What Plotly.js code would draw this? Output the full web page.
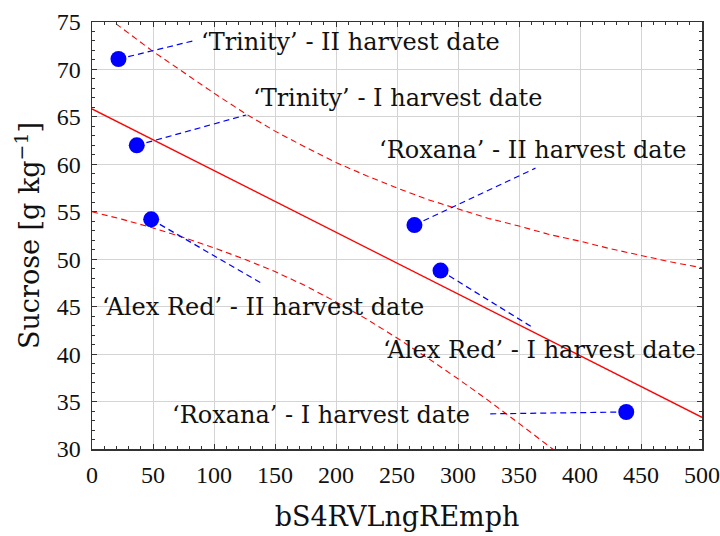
<!DOCTYPE html>
<html>
<head>
<meta charset="utf-8">
<script src="https://cdn.plot.ly/plotly-3.0.1.min.js"></script>
<style>
  html, body { margin: 0; padding: 0; background: #ffffff; }
  #chart { width: 720px; height: 536px; }
</style>
</head>
<body>
<div id="chart"></div>
<script>
// ---- Data ----
const labels = [
  "\u2018Trinity\u2019 - II harvest date",
  "\u2018Trinity\u2019 - I harvest date",
  "\u2018Alex Red\u2019 - II harvest date",
  "\u2018Roxana\u2019 - II harvest date",
  "\u2018Alex Red\u2019 - I harvest date",
  "\u2018Roxana\u2019 - I harvest date"
];
const pointX = [21.7, 36.7, 48.5, 264.3, 285.7, 437.9];
const pointY = [71.1, 62.0, 54.2, 53.6, 48.8, 33.9];

// ends of the blue dashed leader lines (from each point toward its label)
const leaderEndX = [82.6, 126.4, 140.0, 363.5, 361.3, 323.1];
const leaderEndY = [73.0, 65.2, 47.4, 59.6, 42.8, 33.7];

// label anchor positions (left edge, vertical middle)
const labelX = [88.0, 130.6, 6.4, 233.6, 237.2, 63.6];
const labelY = [72.9, 67.0, 45.0, 61.5, 40.4, 33.6];

// fitted regression line (solid red)
const fitX = [0, 500];
const fitY = [65.84, 33.34];

// confidence band (dashed red)
const bandX = [0, 25, 50, 75, 100, 125, 150, 175, 200, 225, 250, 275, 300, 325, 350, 375, 400, 425, 450, 475, 500];
const bandUpper = [76.7, 74.3, 71.9, 69.7, 67.5, 65.4, 63.5, 61.8, 60.2, 58.8, 57.5, 56.3, 55.3, 54.3, 53.5, 52.6, 51.9, 51.1, 50.4, 49.7, 49.1];
const bandLowerX = [0, 25, 50, 75, 100, 125, 150, 175, 200, 225, 250, 275, 300, 325, 350, 375, 400];
const bandLower = [55.0, 54.2, 53.3, 52.3, 51.2, 50.0, 48.7, 47.2, 45.5, 43.7, 41.7, 39.6, 37.4, 35.1, 32.7, 30.3, 27.8];

const xTicks = [0, 50, 100, 150, 200, 250, 300, 350, 400, 450, 500];
const yTicks = [30, 35, 40, 45, 50, 55, 60, 65, 70, 75];

// ---- Build traces ----
const leadX = [], leadY = [];
for (let i = 0; i < pointX.length; i++) {
  leadX.push(pointX[i], leaderEndX[i], null);
  leadY.push(pointY[i], leaderEndY[i], null);
}

const traces = [
  { x: bandX, y: bandUpper, mode: 'lines', type: 'scatter', hoverinfo: 'skip',
    line: { color: '#ff0000', width: 1.1, dash: '6px,4px' } },
  { x: bandLowerX, y: bandLower, mode: 'lines', type: 'scatter', hoverinfo: 'skip',
    line: { color: '#ff0000', width: 1.1, dash: '6px,4px' } },
  { x: fitX, y: fitY, mode: 'lines', type: 'scatter', hoverinfo: 'skip',
    line: { color: '#ff0000', width: 1.3 } },
  { x: leadX, y: leadY, mode: 'lines', type: 'scatter', hoverinfo: 'skip', connectgaps: false,
    line: { color: '#0000ff', width: 1.2, dash: '6px,4px' } },
  { x: pointX, y: pointY, mode: 'markers', type: 'scatter', text: labels,
    marker: { color: '#0000ff', size: 16, line: { width: 0 } } }
];

const annotations = labels.map((t, i) => ({
  x: labelX[i], y: labelY[i], xref: 'x', yref: 'y',
  text: t, showarrow: false, xanchor: 'left', yanchor: 'middle',
  font: { family: 'DejaVu Serif', size: 24, color: '#111111' }
}));

const axisCommon = {
  showgrid: true, gridcolor: '#d4d4d4', gridwidth: 1,
  zeroline: false, showline: true, linecolor: '#333333', linewidth: 1.5,
  mirror: 'allticks', ticks: 'inside', ticklen: 5, tickcolor: '#333333',
  tickfont: { family: 'Liberation Serif', size: 24, color: '#111111' }
};

const layout = {
  width: 720, height: 536,
  margin: { l: 92, r: 18, t: 22, b: 87 },
  paper_bgcolor: '#ffffff', plot_bgcolor: '#ffffff',
  showlegend: false,
  xaxis: Object.assign({}, axisCommon, {
    range: [0, 500], tickvals: xTicks, ticktext: xTicks.map(String),
    ticklabelstandoff: 4,
    minor: { ticks: 'inside', ticklen: 3, dtick: 10, tickcolor: '#333333', showgrid: false },
    title: { text: 'bS4RVLngREmph', standoff: 20,
             font: { family: 'DejaVu Serif', size: 27, color: '#111111' } }
  }),
  yaxis: Object.assign({}, axisCommon, {
    range: [30, 75], tickvals: yTicks, ticktext: yTicks.map(String),
    ticklabelstandoff: 5,
    minor: { ticks: 'inside', ticklen: 3, dtick: 1, tickcolor: '#333333', showgrid: false },
    title: { text: 'Sucrose [g kg<sup>\u22121</sup>]', standoff: 9,
             font: { family: 'DejaVu Serif', size: 27, color: '#111111' } }
  }),
  annotations: annotations
};

Plotly.newPlot('chart', traces, layout, { displayModeBar: false, staticPlot: true });
</script>
</body>
</html>
